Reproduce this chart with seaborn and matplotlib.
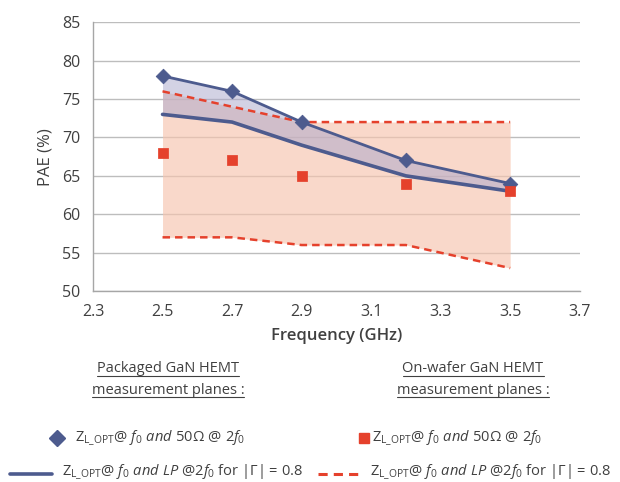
import matplotlib
matplotlib.use("Agg")
import matplotlib.pyplot as plt
import seaborn as sns
import pandas as pd
from matplotlib.lines import Line2D

# values
freq = [2.5, 2.7, 2.9, 3.2, 3.5]
pkg_50ohm = [78, 76, 72, 67, 64]        # diamonds
pkg_lp = [73, 72, 69, 65, 63]           # solid line
wafer_50ohm = [68, 67, 65, 64, 63]      # squares
wafer_lp_high = [76, 74, 72, 72, 72]    # dashed upper
wafer_lp_low = [57, 57, 56, 56, 53]     # dashed lower

x_ticks = [2.3, 2.5, 2.7, 2.9, 3.1, 3.3, 3.5, 3.7]
y_ticks = [50, 55, 60, 65, 70, 75, 80, 85]

navy = "#4d5b8e"
red = "#e5412c"
text_col = "#404040"

sns.set_theme(style="white")
plt.rcParams["font.family"] = ["Open Sans", "DejaVu Sans"]
plt.rcParams["mathtext.fontset"] = "custom"
plt.rcParams["mathtext.rm"] = "Open Sans"
plt.rcParams["mathtext.it"] = "Open Sans:italic"

df = pd.DataFrame({"freq": freq, "pkg_50": pkg_50ohm, "pkg_lp": pkg_lp,
                   "waf_50": wafer_50ohm, "waf_hi": wafer_lp_high, "waf_lo": wafer_lp_low})

fig = plt.figure(figsize=(6.2, 4.82), dpi=100)
ax = fig.add_axes([0.15, 0.396, 0.785, 0.558])

# shaded regions
ax.fill_between(df["freq"], df["waf_lo"], df["waf_hi"], color="#f6c4ae", alpha=0.65, lw=0, zorder=1)
ax.fill_between(df["freq"], df["pkg_lp"], df["pkg_50"], color="#a9a6cb", alpha=0.5, lw=0, zorder=2)

sns.lineplot(data=df, x="freq", y="waf_hi", ax=ax, color=red, lw=1.8, ls=(0, (3, 2)), zorder=3)
sns.lineplot(data=df, x="freq", y="waf_lo", ax=ax, color=red, lw=1.8, ls=(0, (3, 2)), zorder=3)
sns.lineplot(data=df, x="freq", y="pkg_lp", ax=ax, color=navy, lw=2.6, zorder=4)
sns.lineplot(data=df, x="freq", y="pkg_50", ax=ax, color=navy, lw=2.0, zorder=4)
sns.scatterplot(data=df, x="freq", y="pkg_50", ax=ax, marker="D", s=55, color=navy,
                edgecolor=navy, zorder=5)
sns.scatterplot(data=df, x="freq", y="waf_50", ax=ax, marker="s", s=45, color=red,
                edgecolor=red, zorder=5)

ax.set_xlim(2.3, 3.7)
ax.set_ylim(50, 85)
ax.set_xticks(x_ticks)
ax.set_yticks(y_ticks)
ax.set_xticklabels([f"{v:.1f}" for v in x_ticks])
ax.grid(axis="y", color="#bdbdbd", lw=1.0)
ax.set_axisbelow(True)
for s in ["top", "right"]:
    ax.spines[s].set_visible(False)
for s in ["left", "bottom"]:
    ax.spines[s].set_color("#a6a6a6")
    ax.spines[s].set_linewidth(1.0)
ax.tick_params(axis="both", direction="out", length=5, width=1, color="#a6a6a6",
               labelsize=11.5, labelcolor=text_col, pad=4)
ax.set_xlabel("Frequency (GHz)", fontsize=12, color=text_col, fontweight="semibold", labelpad=6)
ax.set_ylabel("PAE (%)", fontsize=12, color=text_col, labelpad=6)

# legend area drawn as figure text
def underlined(x, y, s):
    t = fig.text(x, y, s, ha="center", va="center", fontsize=10.5, color=text_col)
    fig.canvas.draw()
    bb = t.get_window_extent().transformed(fig.transFigure.inverted())
    fig.add_artist(Line2D([bb.x0, bb.x1], [bb.y0 + 0.002, bb.y0 + 0.002],
                          transform=fig.transFigure, color=text_col, lw=0.8))

underlined(168 / 620, 1 - 369 / 482, "Packaged GaN HEMT")
underlined(168 / 620, 1 - 390 / 482, "measurement planes :")
underlined(473 / 620, 1 - 369 / 482, "On-wafer GaN HEMT")
underlined(473 / 620, 1 - 390 / 482, "measurement planes :")

lbl_50 = r"Z$_{\mathrm{L\_OPT}}$$\it{@\ f_0\ and\ 50\Omega\ @\ 2f_0}$"
lbl_lp = r"Z$_{\mathrm{L\_OPT}}$$\it{@\ f_0\ and\ LP\ @2f_0}$ for |Γ| = 0.8"

fig.add_artist(Line2D([57 / 620], [1 - 438 / 482], transform=fig.transFigure, marker="D",
                      ms=8, color=navy, ls="none"))
fig.text(75 / 620, 1 - 438 / 482, lbl_50, fontsize=10.5, color=text_col, va="center")
fig.add_artist(Line2D([364 / 620], [1 - 438 / 482], transform=fig.transFigure, marker="s",
                      ms=7, color=red, ls="none"))
fig.text(372 / 620, 1 - 438 / 482, lbl_50, fontsize=10.5, color=text_col, va="center")

fig.add_artist(Line2D([10 / 620, 52 / 620], [1 - 474 / 482] * 2, transform=fig.transFigure,
                      color=navy, lw=2.6))
fig.text(62 / 620, 1 - 472 / 482, lbl_lp, fontsize=10.5, color=text_col, va="center")
fig.add_artist(Line2D([318 / 620, 358 / 620], [1 - 474 / 482] * 2, transform=fig.transFigure,
                      color=red, lw=2.2, ls=(0, (3, 2))))
fig.text(370 / 620, 1 - 472 / 482, lbl_lp, fontsize=10.5, color=text_col, va="center")

fig.savefig("out.png", dpi=100)
